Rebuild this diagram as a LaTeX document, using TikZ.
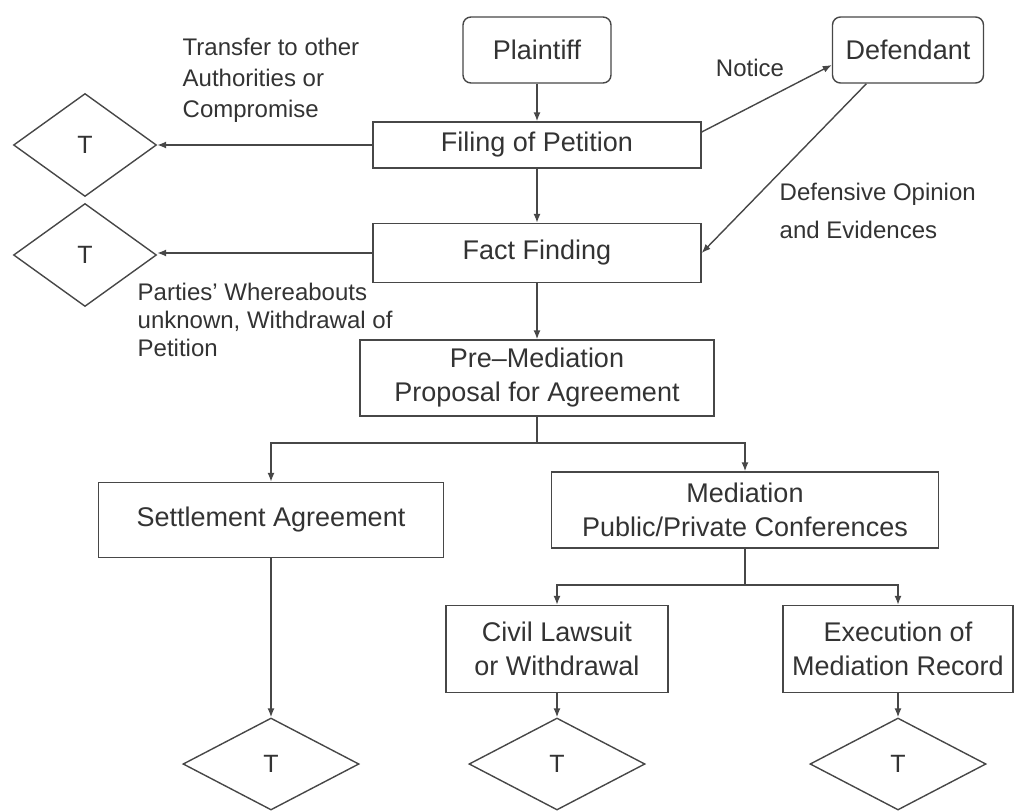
\documentclass[tikz,border=0pt]{standalone}
\usepackage{fontspec}
\setmainfont{Liberation Sans}
\usetikzlibrary{arrows.meta, shapes.geometric}

\begin{document}
\begin{tikzpicture} [
	x=1pt, y=-1pt, % one unit per pixel, y grows downward
	->, % every connector is directed
	>={Latex[length=9pt, width=7pt]}, % small filled arrow heads
	line width=1.4pt,
	color=black!72,
	every node/.style={text=black!80, font=\fontsize{27}{34}\selectfont},
	box/.style={draw, rectangle, inner sep=0pt, align=center}, % plain process box
	party/.style={box, rounded corners=8pt}, % plaintiff and defendant
	term/.style={draw, diamond, inner sep=0pt, minimum width=143pt, minimum height=103pt, font=\fontsize{25}{30}\selectfont},
	endterm/.style={term, minimum width=176pt, minimum height=92pt},
	note/.style={inner sep=0pt, align=left, font=\fontsize{24}{31}\selectfont}, % free labels
	]
	\useasboundingbox (0,0) rectangle (1015,811);

	\node[party, minimum width=148pt, minimum height=66pt] (plaintiff) at (537,50) {Plaintiff};
	\node[party, minimum width=151pt, minimum height=66pt] (defendant) at (908,50) {Defendant};
	\node[box, minimum width=328pt, minimum height=46pt] (filing) at (537,145) {Filing of Petition};
	\node[box, minimum width=328pt, minimum height=59pt] (fact) at (537,253) {Fact Finding};
	\node[box, minimum width=354pt, minimum height=76pt] (premed) at (537,378) {Pre--Mediation\\Proposal for Agreement};
	\node[box, minimum width=345pt, minimum height=75pt] (settle) at (271,520) {Settlement Agreement};
	\node[box, minimum width=387pt, minimum height=76pt] (med) at (745,510) {Mediation\\Public/Private Conferences};
	\node[box, minimum width=222pt, minimum height=87pt] (civil) at (557,649) {Civil Lawsuit\\or Withdrawal};
	\node[box, minimum width=230pt, minimum height=87pt] (exec) at (898,649) {Execution of\\Mediation Record};

	\node[term] (t1) at (85,145) {T};
	\node[term] (t2) at (85,255) {T};
	\node[endterm] (t3) at (271,764) {T};
	\node[endterm] (t4) at (557,764) {T};
	\node[endterm] (t5) at (898,764) {T};

	\node[note, anchor=west] (transfer) at (182,80) {Transfer to other\\Authorities or\\Compromise};
	\node[note, anchor=west, font=\fontsize{24}{28}\selectfont] (whereabouts) at (137,320) {Parties' Whereabouts\\unknown, Withdrawal of\\Petition};
	\node[note] (notice) at (750,68) {Notice};
	\node[note, anchor=west, font=\fontsize{24}{38}\selectfont] (defense) at (779,211) {Defensive Opinion\\and Evidences};

	\coordinate (split1) at (537,443);
	\coordinate (split2) at (745,585);

	\path
		(plaintiff) edge (filing)
		(filing) edge (fact)
		(fact) edge (premed)
		(filing.west) edge (filing.west -| t1.east)
		(fact.west) edge (fact.west -| t2.east)
		([yshift=13pt]filing.east) edge ([yshift=-15pt]defendant.west)
		(defendant.219) edge (fact.east)
		(settle) edge (t3)
		(civil) edge (t4)
		(exec) edge (t5)
	;
	\draw[-] (premed) -- (split1);
	\draw (split1) -| (settle);
	\draw (split1) -| (med);
	\draw[-] (med) -- (split2);
	\draw (split2) -| (civil);
	\draw (split2) -| (exec);
\end{tikzpicture}
\end{document}
